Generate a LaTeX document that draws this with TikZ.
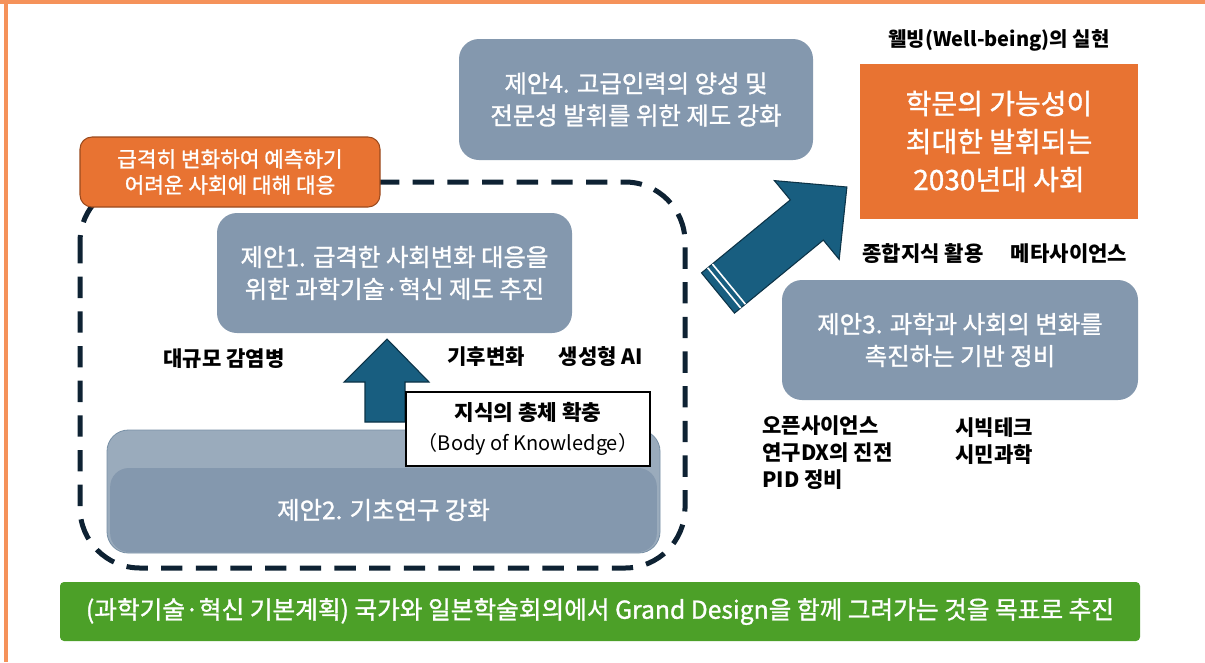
\documentclass[tikz,border=0pt]{standalone}
\usepackage{fontspec}
\setmainfont{Noto Sans CJK KR}
\newfontfamily\medfont{Noto Sans CJK KR}[FakeBold=1.2]
\definecolor{slate}{HTML}{8498AE}
\definecolor{slateback}{HTML}{9AABBC}
\definecolor{slateedge}{HTML}{7890A6}
\definecolor{orangebox}{HTML}{E87332}
\definecolor{orangeedge}{HTML}{9A4A1E}
\definecolor{greenbar}{HTML}{4CA028}
\definecolor{arrowblue}{HTML}{185E80}
\definecolor{arrowedge}{HTML}{0C3347}
\definecolor{dashcol}{HTML}{0E2233}
\definecolor{bordercol}{HTML}{F5925A}
\begin{document}
\begin{tikzpicture}[x=0.75pt,y=-0.75pt,
  pbox/.style={fill=slate, rounded corners=15pt, text=white, align=center,
    font=\medfont\fontsize{18.3}{24}\selectfont, inner sep=0pt},
  lbl/.style={text=black, font=\fontsize{15.8}{20.25}\selectfont\bfseries, inner sep=0pt},
  bigarrow/.style={fill=arrowblue, draw=arrowedge, line width=0.8pt, line join=miter},
]
\useasboundingbox (0,0) rectangle (1205,662);
\fill[white] (0,0) rectangle (1205,662);
% page border (top and left)
\draw[bordercol, line width=3pt] (0,2) -- (1205,2);
\draw[bordercol, line width=3pt] (6,0) -- (6,662);

% dashed group frame
\draw[dashcol, line width=3.75pt, dash pattern=on 16pt off 10pt, rounded corners=45pt]
  (80,182) rectangle (685,568);

% proposal 2 (layered)
\node[fill=slateback, draw=slateedge, line width=0.6pt, rounded corners=16pt,
  minimum width=414.75pt, minimum height=92.25pt, inner sep=0pt] (p2b) at (383.5,491.5) {};
\node[pbox, rounded corners=14pt, minimum width=410pt, minimum height=63pt] (p2) at (383.5,510)
  {제안2. 기초연구 강화};

% up arrow
\draw[bigarrow] (387,339) -- (429,382) -- (405,382) -- (405,422) -- (365,422)
  -- (365,382) -- (344,382) -- cycle;

% body of knowledge box
\node[draw=black, line width=0.8pt, fill=white, minimum width=183pt, minimum height=55.5pt,
  align=center, inner sep=0pt, font=\fontsize{15}{22.5}\selectfont] (bok) at (528,429)
  {{\bfseries\fontsize{16}{22.5}\selectfont 지식의 총체 확충}\\（Body of Knowledge）};

% proposal 1
\node[pbox, minimum width=266.25pt, minimum height=90pt] (p1) at (394.5,273)
  {제안1. 급격한 사회변화 대응을\\위한 과학기술·혁신 제도 추진};

% orange label box
\node[fill=orangebox, draw=orangeedge, line width=0.8pt, rounded corners=9pt, text=white,
  align=center, inner sep=0pt, minimum width=225pt, minimum height=52.5pt,
  font=\medfont\fontsize{16}{19.5}\selectfont] (rapid) at (230,172)
  {급격히 변화하여 예측하기\\어려운 사회에 대해 대응};

% proposal 4
\node[pbox, minimum width=265.5pt, minimum height=90.75pt] (p4) at (636,99.5)
  {제안4. 고급인력의 양성 및\\전문성 발휘를 위한 제도 강화};

% proposal 3
\node[pbox, minimum width=267pt, minimum height=90pt] (p3) at (960,340)
  {제안3. 과학과 사회의 변화를\\촉진하는 기반 정비};

% target society
\node[fill=orangebox, text=white, align=center, inner sep=0pt, minimum width=208.5pt,
  minimum height=116.25pt, font=\medfont\fontsize{21}{28.5}\selectfont] (goal) at (999,141.5)
  {학문의 가능성이\\최대한 발휘되는\\2030년대 사회};

% diagonal arrow
\draw[bigarrow] (701.5,272.9) -- (790.3,199.9) -- (774.4,180.6) -- (846.9,187)
  -- (839.2,259.4) -- (823.3,240.1) -- (734.5,313.1) -- cycle;
\draw[white, line width=1.2pt] (707.7,267.8) -- (740.7,308.0);
\draw[white, line width=1.2pt] (712.4,264.0) -- (745.4,304.2);

% labels
\node[lbl, font=\fontsize{15}{18}\selectfont\bfseries] (wb) at (999,40) {웰빙(Well-being)의 실현};
\node[lbl] (k1) at (923,254) {종합지식 활용};
\node[lbl] (k2) at (1069,254) {메타사이언스};
\node[lbl] (c1) at (224,359) {대규모 감염병};
\node[lbl] (c2) at (486,357) {기후변화};
\node[lbl] (c3) at (601,357) {생성형 AI};
\node[lbl, align=left, anchor=north west] (os) at (762,415)
  {오픈사이언스\\연구DX의 진전\\PID 정비};
\node[lbl, align=left, anchor=north west] (ct) at (955,417)
  {시빅테크\\시민과학};

% green bar
\node[fill=greenbar, rounded corners=3pt, text=white, inner sep=0pt, minimum width=810pt,
  minimum height=44.25pt, font=\medfont\fontsize{18.5}{20}\selectfont] (plan) at (600,611.5)
  {(과학기술·혁신 기본계획) 국가와 일본학술회의에서 Grand Design을 함께 그려가는 것을 목표로 추진};
\end{tikzpicture}
\end{document}
